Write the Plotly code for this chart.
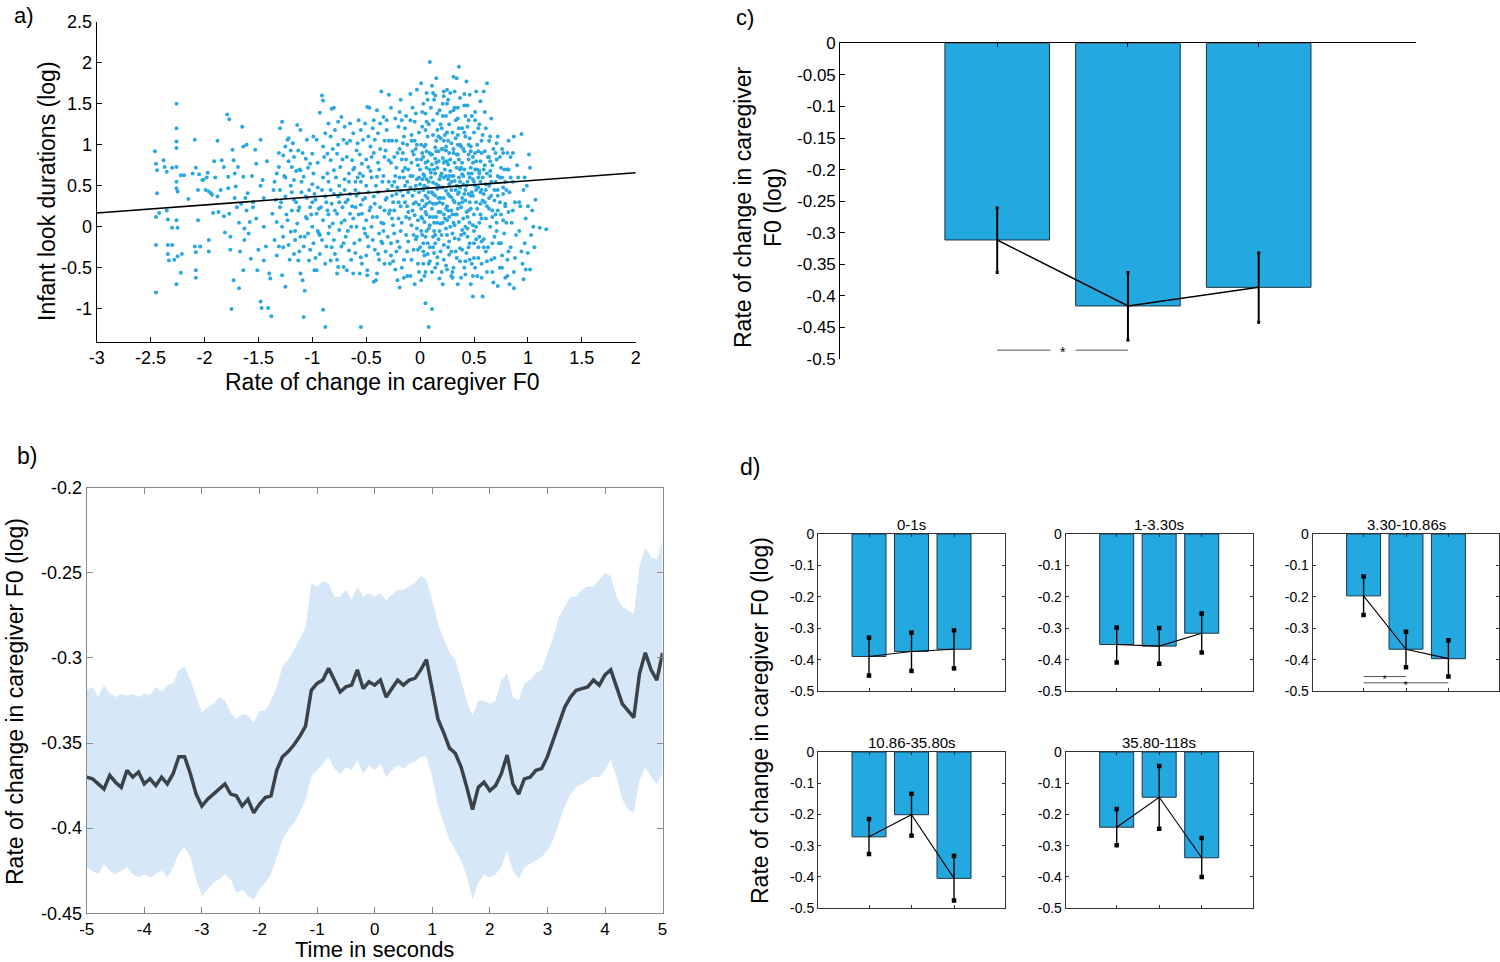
import plotly.graph_objects as go

# ---------------- data ----------------

# a) infant look durations (log) vs rate of change in caregiver F0
look_pairs = [
    # sparse left tail
    (-2.46, 0.92), (-2.45, 0.77), (-2.44, 0.69), (-2.44, 0.41), (-2.45, 0.12), (-2.42, 0.17),
    (-2.45, -0.22), (-2.45, -0.80), (-2.38, 0.81), (-2.37, 0.73), (-2.35, 0.67), (-2.35, 0.20),
    (-2.34, 0.09), (-2.30, 0.72), (-2.30, -0.01), (-2.34, -0.22), (-2.34, -0.33), (-2.33, -0.41),
    (-2.30, -0.22), (-2.28, -0.40), (-2.26, 1.50), (-2.26, 1.20), (-2.26, 1.04), (-2.26, 0.96),
    (-2.26, 0.73), (-2.26, 0.55), (-2.26, 0.47), (-2.25, 0.43), (-2.26, 0.08), (-2.25, -0.01),
    (-2.25, -0.36), (-2.26, -0.70), (-2.22, 0.63), (-2.22, -0.56), (-2.21, -0.33), (-2.19, 0.63),
    (-2.15, 0.34), (-2.11, 0.65), (-2.09, 1.06), (-2.08, 0.72), (-2.08, -0.31), (-2.08, -0.53),
    (-2.08, -0.62), (-2.09, -0.24), (-2.06, 0.08), (-2.06, 0.45), (-2.05, 0.64), (-2.04, -0.24),
    (-2.02, 0.57), (-2.01, 0.57), (-1.99, 0.45), (-1.98, 0.60), (-1.97, 0.66), (-1.96, 0.43),
    (-1.96, -0.16), (-1.96, -0.30), (-1.94, 0.41), (-1.93, 0.39), (-1.92, 0.17), (-1.91, 0.80),
    (-1.88, 1.05), (-1.88, 0.37), (-1.87, 0.18), (-1.84, 0.81), (-1.82, 0.73), (-1.82, 0.13),
    (-1.81, -0.07), (-1.79, 1.37), (-1.77, 1.31), (-1.78, 0.61), (-1.78, 0.47), (-1.77, 0.16),
    (-1.76, -0.12), (-1.76, -0.28), (-1.75, -1.00), (-1.74, 0.94), (-1.73, 0.81), (-1.73, -0.65),
    (-1.72, 0.65), (-1.71, 0.49), (-1.70, 0.24), (-1.69, 0.73), (-1.68, -0.75), (-1.67, -0.30),
    (-1.66, 0.28), (-1.65, 1.22), (-1.64, 0.98), (-1.64, 0.61), (-1.63, -0.02), (-1.64, -0.53),
    (-1.63, -0.16), (-1.61, 1.00), (-1.61, 0.20), (-1.60, 0.41), (-1.59, -0.08), (-1.58, 0.06),
    (-1.57, -0.39), (-1.55, 0.24), (-1.55, 0.30), (-1.53, 0.94), (-1.52, 0.77), (-1.51, -0.53),
    (-1.50, -0.28), (-1.48, 1.06), (-1.48, -0.91), (-1.47, -0.99), (-1.46, 0.57), (-1.45, -0.41),
    (-1.45, 0.00), (-1.43, -0.24), (-1.41, -0.99), (-1.40, -0.57), (-1.39, -0.63), (-1.38, -1.09),
    (-1.45, 0.35), (-1.42, 0.80), (-1.48, 0.50), (-1.52, 0.10), (-1.56, 0.62), (-1.62, 0.35),
    (-1.68, 0.05), (-1.72, 0.35), (-1.85, 0.45), (-1.90, 0.60),
    # middle band, upper part
    (-1.36, 0.45), (-1.33, 0.65), (-1.31, 0.73), (-1.30, 1.20), (-1.28, 1.28), (-1.27, 0.87),
    (-1.25, 0.98), (-1.23, 1.06), (-1.22, 1.08), (-1.20, 0.93), (-1.19, 0.73), (-1.17, 0.57),
    (-1.17, 0.85), (-1.14, 1.24), (-1.13, 0.93), (-1.11, 1.18), (-1.11, 0.69), (-1.08, 0.61),
    (-1.06, 0.83), (-1.05, 1.06), (-1.03, 0.45), (-1.02, 0.77), (-1.00, 0.89), (-0.99, 0.65),
    (-0.96, 1.06), (-0.93, 1.39), (-0.91, 1.60), (-0.90, 1.54), (-0.90, 0.98), (-0.88, 1.14),
    (-0.86, 0.89), (-0.85, 1.26), (-0.83, 1.10), (-0.83, 0.81), (-0.82, 1.44), (-0.80, 0.69),
    (-0.79, 1.18), (-0.77, 0.89), (-0.76, 1.28), (-0.74, 0.73), (-0.73, 1.34), (-0.71, 1.06),
    (-0.70, 1.22), (-0.68, 1.02), (-0.66, 0.65), (-0.65, 1.26), (-0.63, 0.81), (-0.62, 1.14),
    (-0.59, 0.93), (-0.57, 1.30), (-0.56, 0.65), (-0.54, 0.77), (-0.53, 1.06), (-0.51, 1.26),
    (-0.49, 1.46), (-0.48, 0.73), (-0.46, 0.98), (-0.45, 0.85), (-0.43, 1.30), (-0.42, 1.06),
    (-0.40, 0.61), (-0.39, 1.14), (-0.37, 1.26), (-0.36, 1.65), (-0.34, 1.34), (-0.32, 0.93),
    (-0.31, 1.18), (-0.29, 0.81), (-0.47, 1.45), (-0.80, 1.45),
    # middle band, lower part
    (-1.37, 0.16), (-1.35, -0.16), (-1.34, 0.33), (-1.33, 0.06), (-1.31, -0.24), (-1.30, 0.24),
    (-1.28, 0.00), (-1.27, -0.12), (-1.25, 0.37), (-1.23, 0.08), (-1.22, -0.22), (-1.20, -0.06),
    (-1.19, 0.20), (-1.17, -0.33), (-1.17, 0.33), (-1.16, -0.16), (-1.14, 0.04), (-1.13, -0.41),
    (-1.12, 0.24), (-1.11, -0.12), (-1.09, -0.65), (-1.08, -0.24), (-1.06, 0.12), (-1.06, 0.37),
    (-1.04, -0.08), (-1.03, -0.41), (-1.02, 0.24), (-1.00, 0.00), (-0.99, -0.20), (-0.98, -0.53),
    (-0.97, 0.33), (-0.96, 0.16), (-0.94, -0.08), (-0.93, -0.33), (-0.92, 0.24), (-0.91, -0.16),
    (-0.90, 0.08), (-0.88, 0.37), (-0.87, -0.24), (-0.86, 0.20), (-0.85, -0.08), (-0.83, -0.41),
    (-0.82, 0.28), (-0.81, 0.04), (-0.80, -0.16), (-0.79, -0.33), (-0.77, 0.16), (-0.76, 0.37),
    (-0.75, -0.04), (-0.73, -0.24), (-0.72, 0.24), (-0.71, -0.49), (-0.70, 0.08), (-0.69, -0.12),
    (-0.67, 0.33), (-0.66, -0.29), (-0.65, 0.16), (-0.64, 0.00), (-0.62, -0.57), (-0.61, -0.20),
    (-0.60, 0.24), (-0.59, 0.00), (-0.57, 0.41), (-0.56, -0.16), (-0.55, -0.37), (-0.54, 0.16),
    (-0.53, 0.33), (-0.51, -0.08), (-0.50, 0.08), (-0.49, -0.53), (-0.48, -0.24), (-0.46, 0.24),
    (-0.45, 0.00), (-0.44, -0.16), (-0.43, 0.37), (-0.41, -0.65), (-0.40, 0.12), (-0.39, -0.33),
    (-0.38, -0.08), (-0.37, 0.24), (-0.35, -0.20), (-0.34, 0.04), (-0.33, -0.45), (-0.32, 0.33),
    (-0.30, -0.12), (-0.29, 0.16), (-0.88, -1.22), (-0.55, -1.22), (-1.08, -1.10), (-0.90, -1.01),
    (-1.28, -0.59), (-1.25, -0.73), (-1.11, -0.57), (-0.96, -0.53), (-0.77, -0.57), (-0.76, -0.49),
    (-0.68, -0.53), (-0.56, -0.57), (-0.49, -0.59), (-0.43, -0.67), (-0.40, -0.57), (-1.07, -0.78),
    (-1.30, 0.45), (-1.20, 0.50), (-1.10, 0.42), (-1.00, 0.52), (-0.95, 0.48), (-0.85, 0.55),
    (-0.75, 0.50), (-0.70, 0.58), (-0.60, 0.45), (-0.55, 0.55), (-0.50, 0.50), (-0.45, 0.60),
    (-0.35, 0.55), (-0.30, 0.45), (-1.25, 0.60), (-1.15, 0.30), (-1.05, 0.10), (-0.95, -0.05),
    (-0.85, 0.15), (-0.75, 0.30), (-0.65, 0.40), (-0.58, 0.60), (-0.48, 0.42), (-0.38, 0.70),
    (-0.33, 0.20), (-0.62, 0.10), (-0.80, 0.40), (-0.90, 0.60), (-1.00, 0.30), (-1.12, 0.70),
    (-1.35, 0.55), (-1.33, -0.35), (-1.31, 0.90), (-1.29, 0.30), (-1.27, -0.25), (-1.26, 0.62),
    (-1.24, 0.15), (-1.22, 0.80), (-1.21, -0.40), (-1.19, 0.42), (-1.18, 1.02), (-1.16, -0.05),
    (-1.15, 0.68), (-1.13, 0.20), (-1.12, -0.30), (-1.10, 0.55), (-1.09, 0.90), (-1.07, -0.12),
    (-1.05, 0.35), (-1.04, 0.72), (-1.02, -0.28), (-1.01, 0.15), (-0.99, 1.10), (-0.98, 0.40),
    (-0.97, -0.38), (-0.95, 0.78), (-0.94, 0.22), (-0.93, -0.10), (-0.91, 0.45), (-0.89, 0.85),
    (-0.88, -0.45), (-0.87, 0.30), (-0.86, 0.65), (-0.84, 0.00), (-0.83, 0.45), (-0.82, -0.25),
    (-0.81, 0.95), (-0.79, 0.20), (-0.78, 0.60), (-0.77, -0.40), (-0.76, 1.00), (-0.74, 0.40),
    (-0.73, 0.05), (-0.72, 0.82), (-0.71, -0.20), (-0.70, 0.45), (-0.69, 0.30), (-0.68, 0.85),
    (-0.67, -0.05), (-0.66, 0.55), (-0.65, 1.05), (-0.64, -0.40), (-0.63, 0.25), (-0.62, 0.70),
    (-0.61, 0.72), (-0.60, -0.32), (-0.59, 0.38), (-0.58, 1.02), (-0.57, 0.15), (-0.60, 0.55),
    (-0.56, 0.88), (-0.55, 0.27), (-0.54, -0.45), (-0.53, 0.62), (-0.52, -0.02), (-0.55, 1.18),
    (-0.51, 0.35), (-0.50, 0.82), (-0.49, -0.12), (-0.48, 1.10), (-0.47, 0.20), (-0.50, -0.35),
    (-0.46, 0.68), (-0.44, 0.12), (-0.43, 0.90), (-0.42, -0.28), (-0.41, 0.50), (-0.44, 1.20),
    (-0.42, 0.28), (-0.39, 0.42), (-0.38, -0.40), (-0.37, 0.95), (-0.36, 0.05), (-0.39, 0.78),
    (-0.36, -0.18), (-0.40, 1.42), (-0.34, 0.62), (-0.33, 1.05), (-0.32, -0.30), (-0.31, 0.35),
    (-0.34, -0.05), (-0.33, 0.85), (-0.31, 1.30),
    # dense core, -0.3 .. 0
    (-0.27, 1.45), (-0.26, 1.05), (-0.24, 0.85), (-0.23, 0.62), (-0.22, 0.40), (-0.28, 0.20),
    (-0.25, 0.02), (-0.21, -0.18), (-0.27, -0.35), (-0.23, -0.52), (-0.20, 1.22), (-0.22, 0.72),
    (-0.26, 0.50), (-0.20, 0.10), (-0.24, -0.08), (-0.21, -0.65), (-0.29, 1.61), (-0.19, -0.74),
    (-0.18, 1.55), (-0.17, 1.30), (-0.15, 1.10), (-0.19, 0.95), (-0.13, 0.82), (-0.16, 0.68),
    (-0.12, 0.55), (-0.18, 0.44), (-0.14, 0.30), (-0.11, 0.18), (-0.17, 0.05), (-0.13, -0.10),
    (-0.19, -0.25), (-0.15, -0.40), (-0.12, -0.60), (-0.16, 0.90), (-0.11, 0.70), (-0.14, 1.20),
    (-0.18, 0.25), (-0.12, -0.30), (-0.09, 1.62), (-0.07, 1.45), (-0.05, 1.28), (-0.08, 1.12),
    (-0.03, 1.00), (-0.06, 0.88), (-0.02, 0.75), (-0.09, 0.62), (-0.04, 0.50), (-0.07, 0.38),
    (-0.01, 0.27), (-0.05, 0.14), (-0.08, 0.02), (-0.03, -0.12), (-0.06, -0.28), (-0.02, -0.45),
    (-0.09, -0.60), (-0.04, 0.95), (-0.01, 0.60), (-0.07, 0.20), (-0.03, -0.02), (-0.05, -0.70),
    (-0.08, 0.78), (-0.01, 1.15), (-0.03, 1.67), (-0.05, 0.45), (-0.15, 0.60), (-0.25, 0.30),
    (-0.29, 0.55), (-0.28, -0.45), (-0.27, 0.78), (-0.26, 0.10), (-0.29, 1.05), (-0.27, -0.20),
    (-0.26, 0.38), (-0.24, 0.55), (-0.23, 1.32), (-0.22, -0.30), (-0.21, 0.90), (-0.24, 0.20),
    (-0.22, 1.05), (-0.21, 0.48), (-0.25, -0.42), (-0.19, 0.60), (-0.18, -0.05), (-0.17, 0.82),
    (-0.16, 0.38), (-0.19, 1.40), (-0.17, -0.50), (-0.16, 1.02), (-0.20, 0.30), (-0.14, 0.50),
    (-0.13, 0.12), (-0.12, 1.00), (-0.11, -0.18), (-0.14, 0.72), (-0.13, 1.35), (-0.11, 0.42),
    (-0.15, -0.62), (-0.12, 0.25), (-0.09, 0.48), (-0.08, -0.40), (-0.07, 0.92), (-0.06, 0.28),
    (-0.09, 1.30), (-0.07, 0.62), (-0.06, -0.10), (-0.10, 0.10), (-0.08, 1.05), (-0.04, 0.30),
    (-0.03, 0.82), (-0.02, -0.28), (-0.01, 0.42), (-0.04, 1.38), (-0.03, 0.58), (-0.02, 0.08),
    (-0.05, 1.05), (-0.01, -0.55), (-0.04, -0.15),
    # dense core, 0 .. 0.6
    (0.01, 1.75), (0.03, 1.50), (0.05, 1.38), (0.02, 1.22), (0.07, 1.10), (0.04, 0.98),
    (0.09, 0.90), (0.01, 0.82), (0.06, 0.72), (0.03, 0.64), (0.08, 0.55), (0.02, 0.46),
    (0.05, 0.38), (0.09, 0.30), (0.01, 0.22), (0.06, 0.15), (0.04, 0.06), (0.08, -0.02),
    (0.02, -0.10), (0.07, -0.20), (0.03, -0.30), (0.09, -0.42), (0.05, -0.55), (0.01, -0.65),
    (0.09, 2.01), (0.05, -0.93), (0.08, 1.25), (0.04, 0.50), (0.07, 0.35), (0.02, 0.10),
    (0.06, -0.05), (0.09, 0.70), (0.03, 0.85), (0.07, -0.33), (0.06, 1.63), (0.08, -1.22),
    (0.00, 0.52), (0.01, 1.00), (0.02, 0.32), (0.03, -0.45), (0.00, 0.70), (0.01, 0.12),
    (0.02, 1.40), (0.03, 0.45), (0.00, -0.25), (0.02, 0.90), (0.01, -0.05), (0.04, 0.62),
    (0.05, 0.18), (0.06, 1.28), (0.07, 0.48), (0.04, -0.35), (0.05, 1.00), (0.06, 0.28),
    (0.07, 0.80), (0.04, -0.60), (0.06, 0.58), (0.05, -0.12), (0.07, 1.55),
    (0.11, 1.72), (0.15, 1.81), (0.13, 1.55), (0.18, 1.42), (0.12, 1.30), (0.16, 1.18),
    (0.19, 1.08), (0.14, 0.97), (0.11, 0.88), (0.17, 0.80), (0.13, 0.70), (0.19, 0.62),
    (0.12, 0.54), (0.16, 0.46), (0.14, 0.38), (0.18, 0.30), (0.11, 0.22), (0.15, 0.12),
    (0.19, 0.04), (0.13, -0.05), (0.17, -0.15), (0.12, -0.25), (0.16, -0.37), (0.14, -0.50),
    (0.18, -0.63), (0.11, -1.00), (0.15, 0.92), (0.18, 0.58), (0.12, 0.40), (0.17, 0.18),
    (0.14, -0.10), (0.19, 1.25), (0.13, 0.05), (0.16, 0.72), (0.12, 1.63),
    (0.09, 0.12), (0.10, 0.88), (0.11, 0.42), (0.12, 1.12), (0.09, -0.25), (0.10, 0.60),
    (0.11, -0.55), (0.12, 0.28), (0.10, 1.45), (0.11, 0.76), (0.09, 0.02), (0.12, -0.12),
    (0.14, 0.65), (0.15, 0.28), (0.16, 1.38), (0.17, 0.92), (0.14, -0.20), (0.15, 0.52),
    (0.16, 0.05), (0.17, 1.10), (0.14, 1.60), (0.16, -0.45), (0.15, 0.78), (0.17, 0.35),
    (0.22, 1.65), (0.25, 1.50), (0.21, 1.35), (0.27, 1.25), (0.23, 1.12), (0.29, 1.02),
    (0.24, 0.93), (0.21, 0.84), (0.26, 0.76), (0.28, 0.68), (0.22, 0.60), (0.27, 0.52),
    (0.24, 0.44), (0.29, 0.36), (0.21, 0.28), (0.26, 0.20), (0.23, 0.10), (0.28, 0.00),
    (0.25, -0.10), (0.22, -0.22), (0.27, -0.34), (0.24, -0.47), (0.29, -0.60), (0.21, -0.70),
    (0.25, 1.67), (0.28, 1.40), (0.23, 0.80), (0.26, 0.40), (0.22, 0.15), (0.29, 0.55),
    (0.24, -0.02), (0.27, 0.90), (0.22, 1.59), (0.28, 1.63),
    (0.19, 0.48), (0.20, 1.20), (0.21, 0.05), (0.22, 0.78), (0.19, -0.30), (0.20, 0.65),
    (0.21, 1.50), (0.22, 0.35), (0.20, -0.55), (0.21, 0.95), (0.19, 0.18), (0.22, 1.05),
    (0.20, -0.10), (0.24, 0.62), (0.25, 0.08), (0.26, 1.05), (0.27, 0.38), (0.24, 1.35),
    (0.25, 0.80), (0.26, -0.25), (0.27, 0.62), (0.24, 0.22), (0.26, 1.55), (0.25, -0.52),
    (0.27, 0.12), (0.24, 0.98),
    (0.31, 1.83), (0.34, 1.81), (0.36, 1.95), (0.37, 1.57), (0.32, 1.45), (0.35, 1.32),
    (0.39, 1.20), (0.33, 1.08), (0.38, 0.98), (0.31, 0.90), (0.36, 0.82), (0.34, 0.72),
    (0.39, 0.64), (0.32, 0.56), (0.37, 0.48), (0.35, 0.40), (0.31, 0.32), (0.38, 0.24),
    (0.33, 0.15), (0.36, 0.06), (0.39, -0.04), (0.32, -0.14), (0.37, -0.26), (0.34, -0.38),
    (0.31, -0.50), (0.38, -0.62), (0.35, -0.70), (0.33, 1.30), (0.36, 0.60), (0.39, 0.35),
    (0.32, 0.02), (0.37, 1.00),
    (0.29, 0.45), (0.30, 1.15), (0.31, 0.05), (0.32, 0.78), (0.29, -0.30), (0.30, 0.62),
    (0.31, 1.42), (0.32, 0.30), (0.30, -0.08), (0.31, 0.95), (0.29, 0.20), (0.32, 1.65),
    (0.30, -0.62), (0.34, 0.50), (0.35, 1.00), (0.36, -0.15), (0.37, 0.70), (0.34, 0.15),
    (0.35, 1.45), (0.36, 0.42), (0.37, -0.42), (0.34, 0.88), (0.36, 1.20), (0.35, 0.22),
    (0.37, 0.55),
    (0.43, 1.77), (0.46, 1.61), (0.41, 1.48), (0.48, 1.35), (0.44, 1.22), (0.42, 1.10),
    (0.47, 0.98), (0.45, 0.88), (0.49, 0.78), (0.41, 0.70), (0.46, 0.60), (0.43, 0.50),
    (0.48, 0.42), (0.42, 0.32), (0.47, 0.22), (0.44, 0.12), (0.49, 0.02), (0.41, -0.08),
    (0.46, -0.20), (0.43, -0.32), (0.48, -0.45), (0.42, -0.58), (0.47, -0.70), (0.49, -0.85),
    (0.45, 1.00), (0.41, 0.40), (0.48, 0.65), (0.44, -0.02), (0.46, 0.30),
    (0.39, 0.78), (0.40, 0.10), (0.41, 1.15), (0.42, 0.45), (0.39, -0.28), (0.40, 0.62),
    (0.41, 1.62), (0.42, 0.00), (0.40, 0.95), (0.41, -0.50), (0.39, 0.30), (0.42, 1.35),
    (0.44, 0.55), (0.45, 0.20), (0.46, 1.08), (0.47, 0.72), (0.44, -0.12), (0.45, 0.40),
    (0.46, -0.40), (0.47, 0.92), (0.44, 1.48), (0.46, 0.05), (0.45, 0.82),
    (0.52, 1.65), (0.56, 1.53), (0.59, 1.65), (0.51, 1.40), (0.55, 1.25), (0.58, 1.12),
    (0.53, 1.00), (0.57, 0.90), (0.52, 0.80), (0.59, 0.70), (0.54, 0.60), (0.51, 0.50),
    (0.56, 0.42), (0.58, 0.32), (0.53, 0.22), (0.57, 0.10), (0.52, 0.00), (0.55, -0.12),
    (0.59, -0.25), (0.54, -0.38), (0.51, -0.50), (0.57, -0.62), (0.58, -0.85), (0.53, 0.70),
    (0.56, 0.15), (0.50, -0.20),
    (0.49, 0.38), (0.50, 1.15), (0.51, 0.70), (0.52, -0.15), (0.49, 0.58), (0.50, 0.15),
    (0.51, 1.30), (0.52, 0.45), (0.50, -0.38), (0.51, 0.90), (0.49, -0.60), (0.54, 0.48),
    (0.55, 0.05), (0.56, 0.80), (0.57, 1.05), (0.54, -0.25), (0.55, 0.65), (0.56, 0.28),
    (0.57, -0.45), (0.54, 1.20), (0.56, 0.55),
    (0.02, 0.58), (0.05, 0.78), (0.08, 0.42), (0.04, 0.25), (0.06, 0.92), (0.10, 0.66),
    (0.12, 0.12), (0.14, 0.83), (0.17, 0.50), (0.19, 0.35), (0.20, 0.95), (0.21, 0.48),
    (0.23, 0.70), (0.25, 0.25), (0.26, 0.58), (0.28, 0.82), (0.30, 0.15), (0.31, 0.62),
    (0.33, 0.45), (0.35, 0.88), (0.36, 0.28), (0.38, 0.72), (0.40, 0.52), (0.41, 0.92),
    (0.43, 0.18), (0.45, 0.65), (0.47, 0.38), (0.49, 0.85), (0.50, 0.55), (0.52, 0.30),
    (0.54, 0.92), (0.55, 0.68), (0.57, 0.45), (0.58, 0.60), (0.60, 0.30), (0.03, -0.20),
    (0.08, -0.45), (0.13, -0.32), (0.18, -0.05), (0.22, -0.40), (0.27, -0.18), (0.30, -0.55),
    (0.33, -0.30), (0.38, -0.10), (0.42, -0.42), (0.45, -0.25), (0.50, -0.05), (0.53, -0.60),
    (0.57, -0.18), (0.61, -0.30), (0.15, 1.05), (0.25, 1.15), (0.35, 1.12), (0.45, 1.30),
    (0.05, 1.18),
    # right flank, 0.6 .. 1.17
    (0.62, 1.75), (0.66, 1.32), (0.61, 1.20), (0.64, 1.05), (0.68, 0.95), (0.63, 0.85),
    (0.67, 0.75), (0.65, 0.62), (0.61, 0.52), (0.69, 0.45), (0.64, 0.35), (0.62, 0.25),
    (0.67, 0.12), (0.65, 0.00), (0.69, -0.12), (0.63, -0.25), (0.66, -0.40), (0.62, -0.55),
    (0.68, -0.68), (0.64, 0.50), (0.67, 0.20), (0.65, 0.80), (0.70, 0.55),
    (0.59, 0.40), (0.60, 0.92), (0.61, 0.10), (0.62, 0.65), (0.59, -0.15), (0.60, 1.40),
    (0.61, 0.45), (0.62, -0.42), (0.60, 0.75), (0.64, 0.22), (0.65, 1.10), (0.66, 0.55),
    (0.67, -0.20), (0.64, 0.85), (0.66, 0.38), (0.67, -0.55), (0.65, 0.68), (0.69, 0.32),
    (0.70, 0.90), (0.71, -0.05), (0.72, 0.62), (0.69, -0.38), (0.70, 0.15), (0.71, 1.02),
    (0.72, 0.45),
    (0.72, 1.10), (0.76, 0.95), (0.71, 0.82), (0.78, 0.70), (0.74, 0.60), (0.77, 0.48),
    (0.72, 0.38), (0.79, 0.28), (0.75, 0.15), (0.71, 0.05), (0.78, -0.08), (0.73, -0.20),
    (0.76, -0.35), (0.74, -0.50), (0.79, -0.62), (0.72, -0.72), (0.75, 0.72), (0.72, 0.20),
    (0.80, 0.45), (0.77, 0.90), (0.74, 0.30), (0.75, -0.20), (0.76, 0.60), (0.77, 0.08),
    (0.74, 0.85), (0.76, -0.50), (0.77, 0.40),
    (0.82, 1.05), (0.87, 1.10), (0.84, 0.85), (0.81, 0.70), (0.86, 0.55), (0.83, 0.42),
    (0.88, 0.30), (0.82, 0.18), (0.85, 0.05), (0.89, -0.10), (0.84, -0.25), (0.81, -0.40),
    (0.87, -0.55), (0.83, -0.70), (0.87, -0.75), (0.86, 0.90), (0.79, 0.55), (0.80, 0.05),
    (0.81, 0.90), (0.82, -0.30), (0.79, 0.25), (0.81, -0.60), (0.82, 0.70), (0.84, 0.60),
    (0.86, 0.20), (0.88, -0.38),
    (0.94, 1.13), (0.91, 0.60), (0.96, 0.45), (0.93, 0.25), (0.98, 0.10), (0.92, -0.05),
    (0.97, -0.20), (0.95, -0.45), (0.96, -0.64), (1.01, 0.88), (1.02, 0.72), (1.00, -0.32),
    (1.02, -0.52), (1.04, 0.20), (1.05, 0.00), (1.07, 0.33), (1.06, -0.25), (1.11, -0.01),
    (1.17, -0.03), (0.99, 0.50), (1.03, -0.10), (0.90, 0.75), (0.92, 0.30), (0.94, -0.30),
    (0.97, 0.60), (0.98, -0.52), (1.00, 0.25),
]
rate_f0 = [p[0] for p in look_pairs]
look_dur = [p[1] for p in look_pairs]

# regression line end points
fit_x = [-3, 2]
fit_y = [0.169, 0.659]

# b) rate of change in caregiver F0 around look onset: mean and shaded interval
time_s = [
    -5.0, -4.9, -4.8, -4.7, -4.6, -4.5, -4.4, -4.3, -4.2, -4.1,
    -4.0, -3.9, -3.8, -3.7, -3.6, -3.5, -3.4, -3.3, -3.2, -3.1,
    -3.0, -2.9, -2.8, -2.7, -2.6, -2.5, -2.4, -2.3, -2.2, -2.1,
    -2.0, -1.9, -1.8, -1.7, -1.6, -1.5, -1.4, -1.3, -1.2, -1.1,
    -1.0, -0.9, -0.8, -0.7, -0.6, -0.5, -0.4, -0.3, -0.2, -0.1,
    0.0, 0.1, 0.2, 0.3, 0.4, 0.5, 0.6, 0.7, 0.8, 0.9,
    1.0, 1.1, 1.2, 1.3, 1.4, 1.5, 1.6, 1.7, 1.8, 1.9,
    2.0, 2.1, 2.2, 2.3, 2.4, 2.5, 2.6, 2.7, 2.8, 2.9,
    3.0, 3.1, 3.2, 3.3, 3.4, 3.5, 3.6, 3.7, 3.8, 3.9,
    4.0, 4.1, 4.2, 4.3, 4.4, 4.5, 4.6, 4.7, 4.8, 4.9,
    5.0,
]
f0_mean = [
    -0.370, -0.371, -0.374, -0.377, -0.369, -0.373, -0.376, -0.366, -0.370, -0.367,
    -0.374, -0.371, -0.375, -0.370, -0.374, -0.368, -0.358, -0.358, -0.368, -0.380,
    -0.387, -0.383, -0.380, -0.377, -0.374, -0.380, -0.381, -0.387, -0.383, -0.391,
    -0.386, -0.382, -0.381, -0.366, -0.358, -0.355, -0.351, -0.346, -0.340, -0.319,
    -0.315, -0.313, -0.306, -0.313, -0.320, -0.317, -0.316, -0.307, -0.318, -0.314,
    -0.316, -0.313, -0.323, -0.318, -0.313, -0.316, -0.313, -0.312, -0.307, -0.301,
    -0.319, -0.336, -0.344, -0.353, -0.356, -0.364, -0.376, -0.389, -0.376, -0.373,
    -0.378, -0.375, -0.368, -0.357, -0.374, -0.380, -0.371, -0.370, -0.366, -0.365,
    -0.358, -0.348, -0.338, -0.329, -0.323, -0.319, -0.318, -0.317, -0.313, -0.316,
    -0.310, -0.307, -0.317, -0.327, -0.331, -0.335, -0.309, -0.297, -0.307, -0.313,
    -0.297,
]
f0_upper = [
    -0.319, -0.317, -0.323, -0.316, -0.321, -0.323, -0.321, -0.322, -0.321, -0.323,
    -0.321, -0.322, -0.317, -0.320, -0.316, -0.315, -0.307, -0.305, -0.313, -0.323,
    -0.332, -0.329, -0.327, -0.323, -0.325, -0.332, -0.336, -0.333, -0.334, -0.338,
    -0.331, -0.331, -0.325, -0.317, -0.305, -0.301, -0.295, -0.289, -0.282, -0.256,
    -0.258, -0.255, -0.256, -0.264, -0.264, -0.260, -0.266, -0.258, -0.264, -0.262,
    -0.264, -0.262, -0.266, -0.263, -0.260, -0.260, -0.258, -0.256, -0.252, -0.254,
    -0.266, -0.280, -0.289, -0.297, -0.301, -0.313, -0.325, -0.334, -0.325, -0.325,
    -0.327, -0.325, -0.313, -0.309, -0.323, -0.325, -0.315, -0.313, -0.309, -0.307,
    -0.297, -0.288, -0.276, -0.270, -0.264, -0.264, -0.260, -0.258, -0.258, -0.254,
    -0.250, -0.252, -0.264, -0.270, -0.272, -0.274, -0.246, -0.235, -0.241, -0.242,
    -0.231,
]
f0_lower = [
    -0.423, -0.425, -0.427, -0.421, -0.425, -0.427, -0.425, -0.423, -0.427, -0.429,
    -0.427, -0.429, -0.427, -0.425, -0.429, -0.423, -0.415, -0.411, -0.417, -0.430,
    -0.440, -0.436, -0.432, -0.430, -0.427, -0.430, -0.438, -0.436, -0.440, -0.442,
    -0.436, -0.432, -0.427, -0.417, -0.407, -0.401, -0.397, -0.391, -0.383, -0.370,
    -0.366, -0.362, -0.358, -0.365, -0.368, -0.364, -0.366, -0.360, -0.368, -0.363,
    -0.366, -0.362, -0.370, -0.366, -0.363, -0.365, -0.362, -0.361, -0.358, -0.358,
    -0.370, -0.387, -0.397, -0.407, -0.413, -0.419, -0.428, -0.442, -0.432, -0.427,
    -0.429, -0.427, -0.423, -0.413, -0.425, -0.430, -0.423, -0.421, -0.419, -0.417,
    -0.413, -0.407, -0.397, -0.387, -0.380, -0.376, -0.374, -0.372, -0.370, -0.370,
    -0.366, -0.360, -0.370, -0.383, -0.389, -0.391, -0.372, -0.364, -0.370, -0.374,
    -0.368,
]

# c) three conditions, mean and error-bar ends
cond = [1, 2, 3]
c_mean = [-0.3115, -0.416, -0.3865]
c_hi = [-0.261, -0.363, -0.332]
c_lo = [-0.363, -0.470, -0.442]
c_sig = [(1, 2, -0.486)]

# d) same split by time bins
bin_titles = ["0-1s", "1-3.30s", "3.30-10.86s", "10.86-35.80s", "35.80-118s"]
bin_mean = [
    [-0.390, -0.374, -0.367],
    [-0.352, -0.357, -0.316],
    [-0.197, -0.367, -0.397],
    [-0.272, -0.201, -0.405],
    [-0.241, -0.145, -0.339],
]
bin_hi = [
    [-0.330, -0.314, -0.307],
    [-0.298, -0.299, -0.253],
    [-0.135, -0.311, -0.338],
    [-0.215, -0.134, -0.333],
    [-0.183, -0.045, -0.276],
]
bin_lo = [
    [-0.451, -0.436, -0.428],
    [-0.409, -0.413, -0.377],
    [-0.258, -0.424, -0.454],
    [-0.327, -0.268, -0.476],
    [-0.299, -0.246, -0.401],
]
bin_sig = [[], [], [(1, 2, -0.454), (1, 3, -0.474)], [], []]

# tick labels
a_xticks = [-3, -2.5, -2, -1.5, -1, -0.5, 0, 0.5, 1, 1.5, 2]
a_xlabels = ["-3", "-2.5", "-2", "-1.5", "-1", "-0.5", "0", "0.5", "1", "1.5", "2"]
a_yticks = [-1, -0.5, 0, 0.5, 1, 1.5, 2, 2.5]
a_ylabels = ["-1", "-0.5", "0", "0.5", "1", "1.5", "2", "2.5"]
b_xticks = [-5, -4, -3, -2, -1, 0, 1, 2, 3, 4, 5]
b_xlabels = ["-5", "-4", "-3", "-2", "-1", "0", "1", "2", "3", "4", "5"]
b_yticks = [-0.45, -0.4, -0.35, -0.3, -0.25, -0.2]
b_ylabels = ["-0.45", "-0.4", "-0.35", "-0.3", "-0.25", "-0.2"]
c_yticks = [0, -0.05, -0.1, -0.15, -0.2, -0.25, -0.3, -0.35, -0.4, -0.45, -0.5]
c_ylabels = ["0", "-0.05", "-0.1", "-0.15", "-0.2", "-0.25", "-0.3", "-0.35", "-0.4", "-0.45", "-0.5"]
d_yticks = [0, -0.1, -0.2, -0.3, -0.4, -0.5]
d_ylabels = ["0", "-0.1", "-0.2", "-0.3", "-0.4", "-0.5"]

# ---------------- figure ----------------
W, H = 1500, 962
FONT = "Liberation Sans, Arial, Helvetica, sans-serif"
BLUE = "#24a8e0"
BAR_EDGE = "#1e3444"


def dom_x(left, right):
    return [left / W, right / W]


def dom_y(top, bottom):
    return [1 - bottom / H, 1 - top / H]


fig = go.Figure()
annotations = []

# --- a) scatter
fig.add_trace(go.Scatter(x=rate_f0, y=look_dur, mode="markers",
                         marker=dict(size=4, color="#2aa8df"),
                         xaxis="x", yaxis="y"))
fig.add_trace(go.Scatter(x=fit_x, y=fit_y, mode="lines",
                         line=dict(color="black", width=1.6),
                         xaxis="x", yaxis="y"))

# --- b) mean with band
fig.add_trace(go.Scatter(x=time_s, y=f0_lower, mode="lines", line=dict(width=0, color="#d6e7f7"),
                         xaxis="x2", yaxis="y2"))
fig.add_trace(go.Scatter(x=time_s, y=f0_upper, mode="lines", line=dict(width=0, color="#d6e7f7"),
                         fill="tonexty", fillcolor="#d6e7f7", xaxis="x2", yaxis="y2"))
fig.add_trace(go.Scatter(x=time_s, y=f0_mean, mode="lines",
                         line=dict(color="#3b4249", width=3.5),
                         xaxis="x2", yaxis="y2"))


def add_bar_panel(ax, means, hi, lo, sig, cap_size, err_w, link_w, star_size, star_w, star_bg):
    xa, ya = "x" + ax, "y" + ax
    fig.add_trace(go.Bar(x=cond, y=means, width=0.8,
                         marker=dict(color=BLUE, line=dict(color=BAR_EDGE, width=1)),
                         xaxis=xa, yaxis=ya))
    fig.add_trace(go.Scatter(
        x=cond, y=means, mode="lines", line=dict(color="black", width=link_w),
        error_y=dict(type="data", symmetric=False,
                     array=[h - m for h, m in zip(hi, means)],
                     arrayminus=[m - l for m, l in zip(means, lo)],
                     color="black", thickness=err_w, width=0),
        xaxis=xa, yaxis=ya))
    fig.add_trace(go.Scatter(x=cond + cond, y=hi + lo, mode="markers",
                             marker=dict(symbol="square", size=cap_size, color="black"),
                             xaxis=xa, yaxis=ya))
    for a, b, level in sig:
        fig.add_trace(go.Scatter(x=[a, b], y=[level, level], mode="lines",
                                 line=dict(color="#555555", width=1),
                                 xaxis=xa, yaxis=ya))
        annotations.append(dict(x=(a + b) / 2, y=level, xref=xa, yref=ya, text="*",
                                showarrow=False, bgcolor=star_bg, width=star_w, borderpad=0,
                                font=dict(size=star_size, family=FONT, color="black"),
                                yanchor="middle", yshift=-2))


# --- c) bars
add_bar_panel("3", c_mean, c_hi, c_lo, c_sig, 3, 2, 1.5, 14, 24, "white")

# --- d) bars per bin
d_cols = [(818, 1005), (1065.7, 1252.7), (1312.7, 1499.3)]
d_rows = [(534, 691), (752, 908)]
d_slots = [(0, 0), (0, 1), (0, 2), (1, 0), (1, 1)]
for i, (r, c) in enumerate(d_slots):
    ax = str(4 + i)
    add_bar_panel(ax, bin_mean[i], bin_hi[i], bin_lo[i], bin_sig[i], 4.5, 1.4, 1.1, 11, 8,
                  "rgba(0,0,0,0)")

axis_font = dict(family=FONT, color="black")
common = dict(showgrid=False, zeroline=False, showline=True, ticks="inside", automargin=False)

layout = dict(
    width=W, height=H, margin=dict(l=0, r=0, t=0, b=0, pad=0, autoexpand=False),
    paper_bgcolor="white", plot_bgcolor="white", showlegend=False,
    font=dict(family=FONT, color="black"),
    xaxis=dict(common, domain=dom_x(96.7, 635.7), range=[-3, 2], anchor="y",
               linecolor="black", linewidth=1, ticklen=5, tickcolor="black",
               tickvals=a_xticks, ticktext=a_xlabels, tickfont=dict(axis_font, size=18)),
    yaxis=dict(common, domain=dom_y(21.7, 341.7), range=[-1.4, 2.5], anchor="x",
               linecolor="black", linewidth=1, ticklen=5, tickcolor="black",
               tickvals=a_yticks, ticktext=a_ylabels, tickfont=dict(axis_font, size=18)),
    xaxis2=dict(common, domain=dom_x(86.7, 662.6), range=[-5, 5], anchor="y2",
                linecolor="#8a8a8a", linewidth=1.2, mirror="ticks", ticklen=6, tickcolor="#8a8a8a",
                tickvals=b_xticks, ticktext=b_xlabels, tickfont=dict(axis_font, size=17)),
    yaxis2=dict(common, domain=dom_y(487.7, 913.3), range=[-0.45, -0.2], anchor="x2",
                linecolor="#8a8a8a", linewidth=1.2, mirror="ticks", ticklen=6, tickcolor="#8a8a8a",
                tickvals=b_yticks, ticktext=b_ylabels, tickfont=dict(axis_font, size=18)),
    xaxis3=dict(common, domain=dom_x(840.3, 1415.6), range=[-0.2, 4.2], anchor="y3", side="top",
                linecolor="black", linewidth=1.2, ticklen=4, tickcolor="black",
                tickvals=cond, showticklabels=False),
    yaxis3=dict(common, domain=dom_y(43.3, 359), range=[-0.5, 0], anchor="x3",
                linecolor="black", linewidth=1.2, ticklen=5, tickcolor="black",
                tickvals=c_yticks, ticktext=c_ylabels, tickfont=dict(axis_font, size=17)),
)

for i, (r, c) in enumerate(d_slots):
    n = str(4 + i)
    layout["xaxis" + n] = dict(common, domain=dom_x(*d_cols[c]), range=[-0.2, 4.2], anchor="y" + n,
                               linecolor="#333333", linewidth=1, mirror="ticks", ticklen=3,
                               tickcolor="#333333", tickvals=cond, showticklabels=False)
    layout["yaxis" + n] = dict(common, domain=dom_y(*d_rows[r]), range=[-0.5, 0], anchor="x" + n,
                               linecolor="#333333", linewidth=1, mirror="ticks", ticklen=3,
                               tickcolor="#333333", tickvals=d_yticks, ticktext=d_ylabels,
                               tickfont=dict(axis_font, size=14))
    annotations.append(dict(x=0.5, y=1, xref="x" + n + " domain", yref="y" + n + " domain",
                            text=bin_titles[i], showarrow=False, yanchor="bottom", borderpad=0,
                            font=dict(size=15, family=FONT, color="black")))


def label(text, x, y, size=23, angle=0, xanchor="center"):
    annotations.append(dict(x=x / W, y=1 - y / H, xref="paper", yref="paper", borderpad=0,
                            text=text, showarrow=False, textangle=angle, xanchor=xanchor,
                            yanchor="middle", font=dict(size=size, family=FONT, color="black")))


# panel letters
label("a)", 13, 15, size=22, xanchor="left")
label("b)", 16, 456, xanchor="left")
label("c)", 735, 18, size=22, xanchor="left")
label("d)", 739, 467, xanchor="left")

# axis titles
label("Rate of change in caregiver F0", 382, 382)
label("Infant look durations (log)", 47, 191, angle=-90)
label("Time in seconds", 374, 949, size=22)
label("Rate of change in caregiver F0 (log)", 15, 702, angle=-90)
label("Rate of change in caregiver<br>F0 (log)", 758, 207, angle=-90)
label("Rate of change in caregiver F0 (log)", 760, 721, angle=-90)

layout["annotations"] = annotations
fig.update_layout(layout)

# the page body carries a default 8px margin; drop it so the 1500x962 figure fills the window
fig.write_html("out.html", config={"displayModeBar": False},
               post_script="document.body.style.margin = '0';")
